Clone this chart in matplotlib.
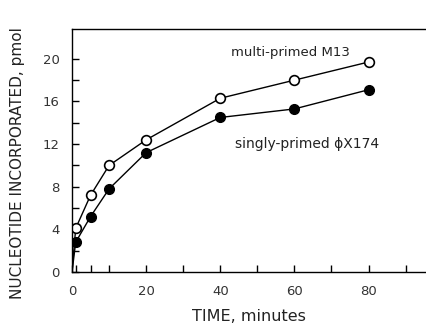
import numpy as np
import matplotlib
matplotlib.use("Agg")
import matplotlib.pyplot as plt

# data
time_min = [0, 1, 5, 10, 20, 40, 60, 80]
m13_multi = [0, 4.1, 7.2, 10.0, 12.4, 16.3, 18.0, 19.7]
phix_single = [0, 2.8, 5.2, 7.8, 11.2, 14.5, 15.3, 17.1]

plt.rcParams['font.family'] = ['DejaVu Sans']

fig = plt.figure(figsize=(4.26, 3.33), dpi=100)
ax = fig.add_axes([0.169, 0.183, 0.831, 0.730])

# lines from origin, markers only on measured points
ax.plot(time_min, m13_multi, color='black', lw=1.0)
ax.plot(time_min, phix_single, color='black', lw=1.0)
ax.plot(time_min[1:], m13_multi[1:], 'o', mfc='white', mec='black', mew=1.2, ms=7)
ax.plot(time_min[1:], phix_single[1:], 'o', mfc='black', mec='black', ms=7)

ax.set_xlim(0, 95.5)
ax.set_ylim(0, 22.8)
ax.set_xticks([0, 20, 40, 60, 80])
ax.set_xticks([1, 5, 10, 30, 50, 70, 90], minor=True)
ax.set_yticks([0, 4, 8, 12, 16, 20])
ax.set_yticks([2, 6, 10, 14, 18], minor=True)
ax.tick_params(which='both', direction='in', length=5, width=1, labelsize=9.5,
               labelcolor='#333333')
ax.tick_params(axis='x', pad=9)
ax.tick_params(axis='y', pad=9)
ax.spines['right'].set_visible(False)
for s in ['left', 'bottom', 'top']:
    ax.spines[s].set_linewidth(1.0)

ax.text(59, 20.6, 'multi-primed M13', fontsize=9.5, ha='center', va='center',
        color='#222222')
ax.text(44, 12.0, 'singly-primed \u03d5X174', fontsize=10, ha='left', va='center',
        color='#222222')

ax.set_xlabel('TIME, minutes', fontsize=11.5, labelpad=8, color='#222222')
ax.set_ylabel('NUCLEOTIDE INCORPORATED, pmol', fontsize=11, color='#222222',
              va='center')
ax.yaxis.set_label_coords(-0.153, 0.45)

fig.savefig('out.png', dpi=100)
